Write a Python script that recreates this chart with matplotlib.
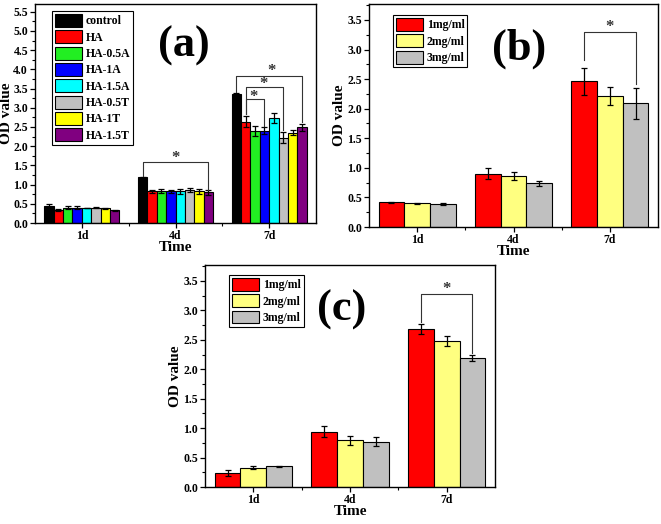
import matplotlib
matplotlib.use('Agg')
import matplotlib.pyplot as plt
import numpy as np
from matplotlib.ticker import MultipleLocator, FixedLocator

plt.rcParams['font.family'] = ['Liberation Serif', 'DejaVu Serif']
plt.rcParams['font.weight'] = 'bold'

days = ['1d', '4d', '7d']

# panel (a)
groups_a = ['control', 'HA', 'HA-0.5A', 'HA-1A', 'HA-1.5A', 'HA-0.5T', 'HA-1T', 'HA-1.5T']
colors_a = ['#000000', '#ff0000', '#22ee22', '#0000ff', '#00ffff', '#c0c0c0', '#ffff00', '#800080']
vals_a = [
    [0.44, 1.19, 3.37],  # control
    [0.34, 0.82, 2.64],  # HA
    [0.40, 0.83, 2.40],  # HA-0.5A
    [0.40, 0.82, 2.40],  # HA-1A
    [0.39, 0.82, 2.74],  # HA-1.5A
    [0.40, 0.86, 2.22],  # HA-0.5T
    [0.38, 0.82, 2.35],  # HA-1T
    [0.33, 0.80, 2.49],  # HA-1.5T
]
err_a = [
    [0.05, 0.01, 0.02],
    [0.03, 0.04, 0.14],
    [0.03, 0.05, 0.13],
    [0.04, 0.05, 0.09],
    [0.01, 0.07, 0.13],
    [0.02, 0.06, 0.15],
    [0.02, 0.06, 0.06],
    [0.02, 0.07, 0.09],
]

# panels (b) and (c)
groups_bc = ['1mg/ml', '2mg/ml', '3mg/ml']
colors_bc = ['#ff0000', '#ffff80', '#c0c0c0']
vals_b = [[0.42, 0.90, 2.46], [0.40, 0.86, 2.22], [0.39, 0.74, 2.09]]
err_b = [[0.01, 0.09, 0.23], [0.01, 0.07, 0.15], [0.015, 0.04, 0.26]]
vals_c = [[0.24, 0.94, 2.68], [0.33, 0.79, 2.48], [0.35, 0.77, 2.19]]
err_c = [[0.045, 0.09, 0.08], [0.02, 0.07, 0.09], [0.015, 0.08, 0.05]]


def draw_panel(ax, names, colors, vals, errs, width, ytop, title, tpos, leg_anchor, ylpad=1):
    x = np.arange(len(days))
    n = len(names)
    for i in range(n):
        pos = x + (i - (n - 1) / 2.0) * width
        ax.bar(pos, vals[i], width, color=colors[i], edgecolor='black', linewidth=0.8,
               label=names[i], zorder=2)
        ax.errorbar(pos, vals[i], yerr=errs[i], fmt='none', ecolor='black',
                    elinewidth=0.9, capsize=2.2, capthick=0.9, zorder=3)
    ax.set_xlim(-0.5, 2.5)
    ax.set_ylim(0, ytop)
    ax.set_xticks(x)
    ax.set_xticklabels(days)
    ax.xaxis.set_minor_locator(FixedLocator([0.5, 1.5]))
    ax.yaxis.set_major_locator(MultipleLocator(0.5))
    ax.yaxis.set_minor_locator(MultipleLocator(0.25))
    ax.yaxis.set_major_formatter(matplotlib.ticker.FormatStrFormatter('%.1f'))
    ax.tick_params(which='major', direction='out', length=3.5, width=0.9, labelsize=8.5, pad=1.5)
    ax.tick_params(which='minor', direction='out', length=2, width=0.8)
    for s in ax.spines.values():
        s.set_linewidth(1.0)
    ax.set_xlabel('Time', fontsize=11, fontweight='bold', labelpad=-1)
    ax.set_ylabel('OD value', fontsize=11, fontweight='bold', labelpad=ylpad)
    ax.text(tpos[0], tpos[1], title, transform=ax.transAxes, fontsize=32,
            fontweight='bold', ha='center', va='center')
    leg = ax.legend(loc='upper left', bbox_to_anchor=leg_anchor, borderaxespad=0,
                    fontsize=8.5, handlelength=2.3, handleheight=1.3, handletextpad=0.3,
                    labelspacing=0.25, borderpad=0.25, fancybox=False, framealpha=1,
                    edgecolor='black')
    leg.get_frame().set_linewidth(0.8)
    for p in leg.get_patches():
        p.set_linewidth(0.8)


def bracket(ax, x1, x2, y1, y2, h, star_y, star_x=None):
    ax.plot([x1, x1, x2, x2], [y1, h, h, y2], color='#333333', linewidth=0.8, zorder=4)
    if star_x is None:
        star_x = (x1 + x2) / 2.0
    ax.text(star_x, star_y, '*', fontsize=12, ha='center', va='center', color='#333333')


fig = plt.figure(figsize=(6.61, 5.24), dpi=100)

ax_a = fig.add_axes([35 / 661, 301 / 524, 281 / 661, 219 / 524])
draw_panel(ax_a, groups_a, colors_a, vals_a, err_a, 0.1, 5.7, '(a)', (0.53, 0.81), (0.06, 0.968), ylpad=0)
bracket(ax_a, 0.65, 1.35, 1.23, 0.87, 1.59, 1.68)
bracket(ax_a, 1.65, 2.35, 3.42, 2.62, 3.82, 3.96, 2.03)
bracket(ax_a, 1.75, 2.15, 2.84, 2.42, 3.54, 3.62, 1.935)
bracket(ax_a, 1.75, 1.95, 2.84, 2.53, 3.22, 3.28, 1.835)

ax_b = fig.add_axes([369 / 661, 297 / 524, 289 / 661, 223 / 524])
draw_panel(ax_b, groups_bc, colors_bc, vals_b, err_b, 0.8 / 3, 3.77, '(b)', (0.52, 0.80), (0.083, 0.95))
bracket(ax_b, 2 - 0.8 / 3, 2 + 0.8 / 3, 2.82, 2.42, 3.29, 3.38)

ax_c = fig.add_axes([205 / 661, 37 / 524, 290 / 661, 222 / 524])
draw_panel(ax_c, groups_bc, colors_bc, vals_c, err_c, 0.8 / 3, 3.77, '(c)', (0.47, 0.80), (0.083, 0.955))
bracket(ax_c, 2 - 0.8 / 3, 2 + 0.8 / 3, 2.80, 2.27, 3.27, 3.36)

fig.savefig('out.png', dpi=100)
